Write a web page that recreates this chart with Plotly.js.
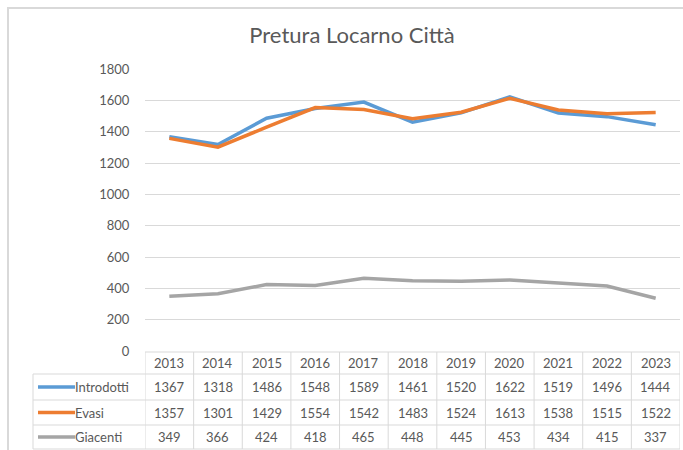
<!DOCTYPE html>
<html><head><meta charset="utf-8">
<script src="https://cdn.plot.ly/plotly-3.0.1.min.js"></script>
<style>html,body{margin:0;padding:0;background:#fff}#chart{width:683px;height:450px}</style>
</head><body><div id="chart"></div>
<script>
const years = ['2013','2014','2015','2016','2017','2018','2019','2020','2021','2022','2023'];
const introdotti = [1367,1318,1486,1548,1589,1461,1520,1622,1519,1496,1444];
const evasi = [1357,1301,1429,1554,1542,1483,1524,1613,1538,1515,1522];
const giacenti = [349,366,424,418,465,448,445,453,434,415,337];
const seriesNames = ['Introdotti','Evasi','Giacenti'];
const seriesColors = ['#5B9BD5','#ED7D31','#A5A5A5'];
const seriesData = [introdotti, evasi, giacenti];

const W = 683, H = 450;
const M = {l:145, r:3, t:69, b:99};
const PW = W - M.l - M.r, PH = H - M.t - M.b;
const px = p => (p - M.l) / PW;           // pixel x -> paper
const py = p => (H - M.b - p) / PH;       // pixel y -> paper
const FONT = 'Lato, "Liberation Sans", sans-serif';
const TXT = '#595959';
const GRID = '#d9d9d9';

const traces = seriesData.map((d,i)=>({
  type:'scatter', mode:'lines', x:years, y:d, name:seriesNames[i],
  line:{color:seriesColors[i], width:3.5}, hoverinfo:'skip'
}));

const shapes = [];
const annotations = [];
// chart border
shapes.push({type:'rect', xref:'paper', yref:'paper', x0:px(8), x1:px(700), y0:py(8), y1:py(470),
  line:{color:GRID, width:2}});
// table rows (pixel y boundaries)
const rowB = [352, 374, 400, 425, 449];
const n = years.length;
// horizontal lines
shapes.push({type:'line', xref:'x', yref:'paper', x0:-0.5, x1:n-0.5, y0:py(rowB[0]), y1:py(rowB[0]), line:{color:GRID,width:1}});
for (let k=1;k<rowB.length;k++){
  shapes.push({type:'line', xref:'paper', yref:'paper', x0:px(33), x1:1, y0:py(rowB[k]), y1:py(rowB[k]), line:{color:GRID,width:1}});
}
// vertical lines
shapes.push({type:'line', xref:'paper', yref:'paper', x0:px(33), x1:px(33), y0:py(rowB[1]), y1:py(rowB[4]), line:{color:GRID,width:1}});
for (let i=0;i<=n;i++){
  shapes.push({type:'line', xref:'x', yref:'paper', x0:i-0.5, x1:i-0.5, y0:py(rowB[0]), y1:py(rowB[4]), line:{color:GRID,width:1}});
}
// header years
years.forEach((y,i)=>{
  annotations.push({xref:'x', yref:'paper', x:i, y:py((rowB[0]+rowB[1])/2), text:y, showarrow:false,
    xanchor:'center', yanchor:'middle', font:{family:FONT, size:13, color:TXT}});
});
// data rows
seriesData.forEach((d,r)=>{
  const yc = py((rowB[r+1]+rowB[r+2])/2);
  d.forEach((v,i)=>{
    annotations.push({xref:'x', yref:'paper', x:i, y:yc, text:String(v), showarrow:false,
      xanchor:'center', yanchor:'middle', font:{family:FONT, size:13, color:TXT}});
  });
  annotations.push({xref:'paper', yref:'paper', x:px(75), y:yc, text:seriesNames[r], showarrow:false,
    xanchor:'left', yanchor:'middle', xshift:-2, font:{family:FONT, size:13, color:TXT}});
  shapes.push({type:'line', xref:'paper', yref:'paper', x0:px(38), x1:px(75), y0:yc, y1:yc,
    line:{color:seriesColors[r], width:3.5}});
});

const layout = {
  width:W, height:H, margin:M, paper_bgcolor:'#fff', plot_bgcolor:'#fff', showlegend:false,
  title:{text:'Pretura Locarno Città', x:352/W, xref:'container', xanchor:'center', y:1-35/H, yref:'container', yanchor:'middle',
    font:{family:FONT, size:22, color:TXT}},
  xaxis:{type:'category', range:[-0.5, n-0.5], showticklabels:false, showgrid:false, zeroline:false, showline:false, ticks:''},
  yaxis:{range:[0,1800], dtick:200, showgrid:true, gridcolor:GRID, gridwidth:1, zeroline:false, showline:false,
    ticks:'outside', ticklen:12, tickcolor:'rgba(0,0,0,0)', tickfont:{family:FONT, size:13, color:TXT}},
  shapes, annotations
};
Plotly.newPlot('chart', traces, layout, {staticPlot:true, displayModeBar:false});
</script></body></html>
